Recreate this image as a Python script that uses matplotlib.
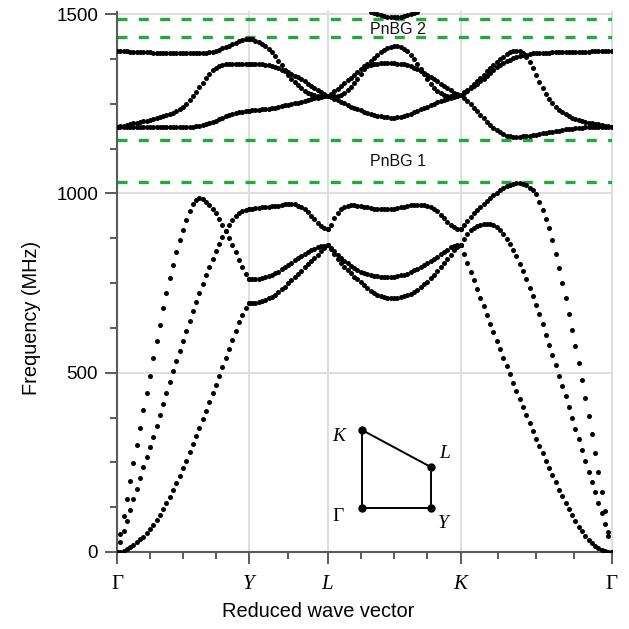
import numpy as np
import matplotlib
matplotlib.use("Agg")
import matplotlib.pyplot as plt
from matplotlib.ticker import FixedLocator, MultipleLocator

plt.rcParams['font.family'] = ['Liberation Sans', 'DejaVu Sans']

# ---------------------------------------------------------------------------
# Path through the Brillouin zone
# ---------------------------------------------------------------------------
path_labels = ['Γ', 'Y', 'L', 'K', 'Γ']
path_nodes = [0.0, 1.0, 1.597, 2.607, 3.751]   # cumulative reduced wave vector
seg_steps = [40, 24, 40, 46]                    # k-steps per segment
minor_div = [4, 2, 4, 4]                        # minor tick subdivisions per segment

# Phononic band-gap edges (MHz)
gap_edges = [1032, 1150, 1436, 1485]
gap_labels = ['PnBG 1', 'PnBG 2']
gap_label_freq = [1088, 1458]
gap_label_k = 2.13

# ---------------------------------------------------------------------------
# Eigenfrequencies (MHz), one value per k-point, segments Γ–Y | Y–L | L–K | K–Γ
# ---------------------------------------------------------------------------
low1 = [
    0, 1, 4, 8, 13, 20, 27, 35, 43, 53, 63, 76, 90, 104, 119, 136, 154, 173, 192, 212,
    233, 255, 278, 301, 324, 347, 370, 394, 418, 442, 467, 492, 517, 542, 567, 592, 616, 640, 662, 681, 693,
    693, 694, 695, 697, 700, 703, 707, 712, 717, 724, 732, 740, 749, 758, 767, 775, 784, 794, 803, 812,
    821, 829, 838, 847, 856,
    856, 845, 832, 818, 806, 795, 786, 777, 768, 760, 752, 744, 736, 728, 722, 717, 713, 710, 708, 707,
    707, 708, 710, 713, 716, 720, 725, 731, 738, 746, 754, 763, 773, 783, 794, 805, 817, 829, 841, 850, 856,
    856, 830, 806, 782, 757, 733, 709, 685, 661, 637, 613, 589, 565, 541, 518, 495, 472, 449, 426, 403,
    381, 359, 337, 316, 295, 275, 255, 235, 214, 194, 174, 155, 137, 119, 102, 86, 71, 58, 45, 34,
    25, 17, 10, 5, 2, 1, 0,
]
low2 = [
    0, 50, 100, 148, 198, 248, 297, 346, 395, 443, 490, 540, 588, 634, 679, 722, 763, 801, 837, 869,
    899, 926, 950, 969, 982, 986, 983, 977, 968, 957, 944, 929, 912, 894, 875, 856, 836, 815, 795, 776, 760,
    760, 760, 761, 762, 764, 766, 769, 773, 777, 782, 788, 794, 800, 807, 813, 819, 825, 831, 836, 841,
    845, 849, 852, 854, 856,
    856, 848, 838, 829, 820, 812, 805, 798, 792, 787, 782, 778, 775, 772, 770, 769, 768, 768, 768, 768,
    768, 769, 771, 773, 776, 780, 785, 790, 795, 800, 806, 811, 817, 823, 830, 837, 843, 849, 854, 857, 856,
    856, 874, 887, 897, 904, 909, 912, 914, 915, 914, 911, 906, 898, 887, 873, 858, 842, 824, 804, 783,
    761, 737, 713, 690, 664, 636, 606, 577, 550, 521, 490, 463, 434, 405, 374, 344, 315, 284, 254, 224,
    196, 166, 138, 108, 77, 45, 0,
]
low3 = [
    0, 29, 58, 87, 117, 147, 177, 207, 236, 265, 293, 322, 352, 383, 413, 444, 475, 505, 533, 561,
    589, 617, 645, 672, 698, 723, 748, 772, 796, 818, 840, 860, 879, 896, 912, 926, 938, 946, 951, 953, 955,
    955, 957, 959, 960, 961, 962, 963, 964, 965, 966, 968, 969, 970, 970, 969, 966, 962, 955, 947, 938,
    929, 918, 909, 903, 900,
    900, 912, 930, 945, 955, 962, 966, 967, 967, 966, 965, 963, 961, 959, 957, 956, 955, 955, 955, 956,
    957, 959, 961, 963, 965, 967, 968, 968, 968, 967, 965, 962, 957, 950, 941, 931, 921, 912, 905, 901, 900,
    900, 912, 923, 934, 944, 953, 962, 971, 979, 987, 995, 1002, 1009, 1015, 1020, 1024, 1027, 1028, 1028, 1026,
    1022, 1016, 1008, 997, 976, 953, 929, 902, 870, 831, 792, 749, 707, 664, 618, 573, 526, 480, 430, 380,
    328, 276, 222, 168, 113, 57, 0,
]
up1 = [
    1186, 1186, 1185, 1185, 1185, 1185, 1184, 1184, 1184, 1184, 1184, 1184, 1184, 1184, 1184, 1184, 1184, 1184, 1184, 1184,
    1184, 1185, 1185, 1186, 1187, 1188, 1190, 1193, 1196, 1199, 1203, 1207, 1211, 1215, 1219, 1222, 1225, 1227, 1228, 1229, 1230,
    1230, 1231, 1232, 1233, 1234, 1235, 1236, 1238, 1239, 1241, 1243, 1245, 1247, 1249, 1251, 1253, 1256, 1258, 1261, 1263,
    1265, 1267, 1269, 1271, 1272,
    1272, 1268, 1264, 1260, 1256, 1251, 1246, 1242, 1238, 1234, 1231, 1227, 1224, 1221, 1219, 1217, 1215, 1213, 1212, 1211,
    1211, 1212, 1214, 1216, 1219, 1222, 1226, 1230, 1234, 1238, 1242, 1246, 1250, 1254, 1258, 1261, 1264, 1267, 1270, 1272, 1274,
    1274, 1267, 1258, 1249, 1239, 1229, 1219, 1210, 1200, 1191, 1183, 1176, 1170, 1165, 1161, 1159, 1158, 1158, 1158, 1159,
    1160, 1161, 1163, 1164, 1166, 1167, 1169, 1170, 1172, 1173, 1175, 1176, 1178, 1179, 1180, 1181, 1182, 1183, 1184, 1184,
    1185, 1185, 1185, 1186, 1186, 1186, 1186,
]
up2 = [
    1186, 1188, 1189, 1191, 1193, 1195, 1197, 1199, 1201, 1203, 1205, 1207, 1209, 1212, 1215, 1218, 1221, 1225, 1230, 1236,
    1242, 1250, 1260, 1271, 1283, 1296, 1309, 1322, 1334, 1343, 1350, 1355, 1358, 1360, 1361, 1362, 1362, 1362, 1362, 1362, 1362,
    1362, 1362, 1361, 1361, 1360, 1359, 1357, 1355, 1352, 1349, 1345, 1341, 1337, 1333, 1328, 1323, 1318, 1312, 1306, 1300,
    1295, 1289, 1283, 1278, 1272,
    1272, 1271, 1271, 1272, 1275, 1281, 1289, 1297, 1308, 1320, 1334, 1347, 1355, 1359, 1361, 1362, 1363, 1363, 1363, 1363,
    1363, 1362, 1362, 1360, 1357, 1354, 1350, 1346, 1341, 1336, 1330, 1324, 1318, 1312, 1306, 1300, 1293, 1287, 1281, 1277, 1274,
    1274, 1282, 1289, 1297, 1305, 1313, 1322, 1331, 1340, 1349, 1358, 1366, 1374, 1381, 1388, 1393, 1396, 1398, 1396, 1391,
    1381, 1366, 1349, 1330, 1311, 1293, 1277, 1263, 1251, 1241, 1233, 1226, 1220, 1215, 1211, 1207, 1204, 1201, 1199, 1197,
    1195, 1193, 1192, 1190, 1189, 1187, 1186,
]
up3 = [
    1397, 1397, 1396, 1396, 1395, 1395, 1394, 1394, 1393, 1393, 1393, 1392, 1392, 1392, 1392, 1391, 1391, 1391, 1390, 1390,
    1390, 1390, 1390, 1390, 1390, 1390, 1391, 1392, 1393, 1395, 1397, 1400, 1404, 1408, 1412, 1416, 1420, 1424, 1427, 1429, 1430,
    1430, 1429, 1426, 1422, 1417, 1411, 1403, 1393, 1382, 1370, 1357, 1344, 1331, 1320, 1310, 1301, 1293, 1286, 1280, 1276,
    1273, 1271, 1270, 1271, 1272,
    1272, 1278, 1285, 1292, 1299, 1307, 1315, 1322, 1330, 1338, 1346, 1354, 1362, 1370, 1378, 1386, 1393, 1399, 1404, 1408,
    1410, 1410, 1408, 1403, 1396, 1386, 1374, 1361, 1347, 1333, 1319, 1306, 1295, 1286, 1279, 1275, 1272, 1271, 1271, 1272, 1274,
    1274, 1279, 1286, 1293, 1300, 1306, 1313, 1320, 1328, 1336, 1344, 1351, 1358, 1364, 1369, 1373, 1377, 1380, 1383, 1385,
    1387, 1389, 1390, 1391, 1391, 1392, 1392, 1392, 1393, 1393, 1393, 1393, 1394, 1394, 1394, 1394, 1395, 1395, 1395, 1395,
    1396, 1396, 1396, 1396, 1397, 1397, 1397,
]
# Next band up, which only dips into the window around the middle of L–K
top_start = 13   # first k-index within the L–K segment
top_band = [1506, 1502, 1499, 1496, 1494, 1493, 1492, 1492, 1492, 1493, 1494, 1496, 1499, 1502, 1506]

# Irreducible Brillouin zone sketch (reduced units)
bz_names = ['Γ', 'Y', 'L', 'K']
bz_x = [0.0, 1.0, 1.0, 0.0]
bz_y = [0.0, 0.0, 0.59, 1.126]

# ---------------------------------------------------------------------------
seg_k = [np.linspace(path_nodes[s], path_nodes[s + 1], n + 1) for s, n in enumerate(seg_steps)]
k = np.concatenate(seg_k)

axis_grey = '#5a5a5a'
grid_grey = '#dedede'
gap_green = '#22ab3a'
dot_size = 3.6

fig = plt.figure(figsize=(6.29, 6.29), dpi=100)
ax = fig.add_axes([117 / 629, 77 / 629, 494.5 / 629, 540 / 629])
ax.set_xlim(path_nodes[0], path_nodes[-1])
ax.set_ylim(0, 1505.6)

# grid lines at the symmetry points and major frequencies
for xv in path_nodes[1:]:
    ax.axvline(xv, color=grid_grey, lw=1.4, zorder=0, clip_on=False)
for yv in (500, 1000, 1500):
    ax.axhline(yv, color=grid_grey, lw=1.4, zorder=0, clip_on=False)

# band-gap edges
for f in gap_edges:
    ax.axhline(f, color=gap_green, lw=2.4, ls=(0, (3.0, 3.4)), zorder=2)
for lab, f in zip(gap_labels, gap_label_freq):
    ax.text(gap_label_k, f, lab, ha='center', va='center', fontsize=11.5, color='#111111', zorder=4)

# dispersion curves
for band in (low1, low2, low3, up1, up2, up3):
    ax.plot(k, band, 'o', ms=dot_size, mfc='black', mec='none', zorder=3)
ax.plot(seg_k[2][top_start:top_start + len(top_band)], top_band, 'o', ms=dot_size,
        mfc='black', mec='none', zorder=3)

# axes styling
for side in ('top', 'right'):
    ax.spines[side].set_visible(False)
for side in ('left', 'bottom'):
    ax.spines[side].set_color(axis_grey)
    ax.spines[side].set_linewidth(1.5)

ax.set_xticks(path_nodes)
ax.set_xticklabels(path_labels)
minor_k = []
for s, n in enumerate(minor_div):
    for j in range(1, n):
        minor_k.append(path_nodes[s] + (path_nodes[s + 1] - path_nodes[s]) * j / n)
ax.xaxis.set_minor_locator(FixedLocator(minor_k))
ax.set_yticks([0, 500, 1000, 1500])
ax.yaxis.set_minor_locator(MultipleLocator(125))

ax.tick_params(which='major', direction='out', length=8.6, width=1.4, color=axis_grey)
ax.tick_params(which='minor', direction='out', length=4.7, width=1.4, color=axis_grey)
ax.tick_params(axis='y', labelsize=13.5, pad=5)
ax.tick_params(axis='x', pad=8)
for lbl in ax.get_xticklabels():
    lbl.set_fontfamily(['Liberation Serif', 'DejaVu Serif'])
    lbl.set_fontsize(15)
    lbl.set_fontstyle('normal' if lbl.get_text() == 'Γ' else 'italic')

fig.text(32 / 629, 1 - 318 / 629, 'Frequency (MHz)', rotation=90, ha='center', va='center', fontsize=14.4)
fig.text(318 / 629, 1 - 617 / 629, 'Reduced wave vector', ha='center', va='baseline', fontsize=14.4)

# inset: irreducible zone
ins = fig.add_axes([362 / 629, (629 - 508) / 629, 69 / 629, 78 / 629])
ins.set_xlim(0, 1)
ins.set_ylim(0, 1.126)
ins.axis('off')
ins.plot(bz_x + bz_x[:1], bz_y + bz_y[:1], color='black', lw=1.4, clip_on=False)
ins.plot(bz_x, bz_y, 'o', ms=5, color='black', clip_on=False)
label_offsets = [(-17, -6), (9, -11), (10, 9.5), (-17, -5)]
for name, x0, y0, off in zip(bz_names, bz_x, bz_y, label_offsets):
    ins.annotate(name, (x0, y0), xytext=off, textcoords='offset points', ha='center', va='center',
                 fontsize=14, family=['Liberation Serif', 'DejaVu Serif'],
                 style='normal' if name == 'Γ' else 'italic', annotation_clip=False)

fig.savefig('out.png', dpi=100)
